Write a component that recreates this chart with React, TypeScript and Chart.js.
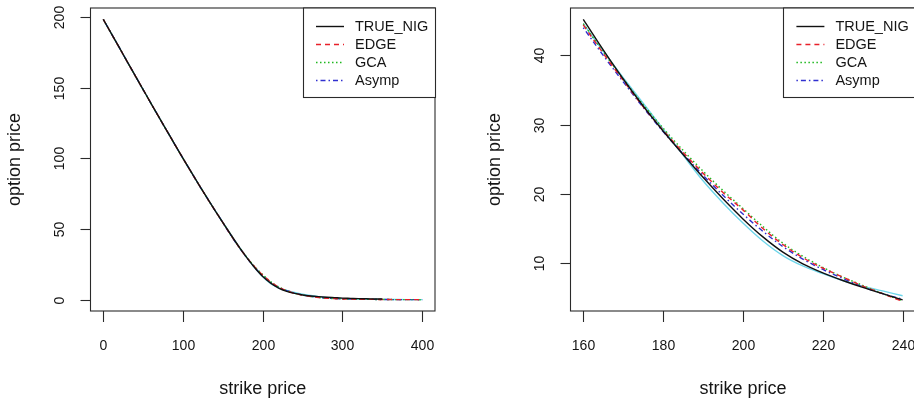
import { useEffect, useRef } from "react";
import { Chart, registerables } from "chart.js";

Chart.register(...registerables);

const FONT = '"Liberation Sans", Arial, Helvetica, sans-serif';
const INK = "#151515";

// ---- full strike range (0 .. 400) ----
const fullStrikes = [
  0, 10, 20, 30, 40, 50, 60, 70, 80, 90, 100, 110, 120, 130, 140, 150, 160, 170, 180, 190,
  200, 210, 220, 230, 240, 250, 260, 270, 280, 290, 300, 310, 320, 330, 340, 350, 360, 370,
  380, 390, 400,
];
// exact NIG price is only available up to K = 350
const fullTrueNig = [
  198.4, 188.4, 178.5, 168.5, 158.6, 148.7, 138.8, 129.0, 119.3, 109.6, 100.0, 90.6, 81.3,
  72.2, 63.3, 54.6, 46.0, 37.6, 29.8, 22.7, 16.5, 11.8, 8.3, 6.0, 4.5, 3.4, 2.7, 2.2, 1.8,
  1.5, 1.2, 1.0, 0.8, 0.7, 0.6, 0.5,
];
const fullEdge = [
  198.4, 188.4, 178.5, 168.5, 158.6, 148.7, 138.8, 129.0, 119.3, 109.6, 100.0, 90.6, 81.3,
  72.2, 63.3, 54.6, 45.8, 37.5, 29.9, 23.2, 17.5, 12.6, 9.0, 6.4, 4.5, 3.2, 2.3, 1.6, 1.1,
  0.8, 0.6, 0.45, 0.35, 0.3, 0.25, 0.2, 0.15, 0.12, 0.1, 0.08, 0.06,
];
const fullGca = [
  198.4, 188.4, 178.5, 168.5, 158.6, 148.7, 138.8, 129.0, 119.3, 109.6, 100.0, 90.6, 81.3,
  72.2, 63.3, 54.6, 45.9, 37.7, 30.1, 23.4, 17.7, 12.8, 9.1, 6.5, 4.6, 3.3, 2.3, 1.6, 1.1,
  0.8, 0.6, 0.45, 0.35, 0.3, 0.25, 0.2, 0.15, 0.12, 0.1, 0.08, 0.06,
];
const fullAsymp = [
  198.4, 188.4, 178.5, 168.5, 158.6, 148.7, 138.8, 129.0, 119.3, 109.6, 100.0, 90.6, 81.3,
  72.2, 63.3, 54.5, 45.6, 37.4, 29.7, 22.9, 17.1, 12.3, 8.9, 6.5, 4.7, 3.4, 2.4, 1.7, 1.2,
  0.9, 0.6, 0.45, 0.35, 0.3, 0.25, 0.2, 0.15, 0.12, 0.1, 0.08, 0.06,
];
const fullCyan = [
  198.4, 188.4, 178.5, 168.5, 158.6, 148.7, 138.8, 129.0, 119.3, 109.6, 100.0, 90.6, 81.3,
  72.2, 63.4, 54.8, 46.0, 37.7, 29.9, 22.6, 16.2, 11.3, 8.3, 6.6, 5.2, 4.0, 3.0, 2.2, 1.6,
  1.1, 0.8, 0.6, 0.45, 0.35, 0.3, 0.25, 0.2, 0.15, 0.12, 0.1, 0.08,
];

// ---- near-the-money range (160 .. 240) ----
const zoomStrikes = [160, 165, 170, 175, 180, 185, 190, 195, 200, 205, 210, 215, 220, 225, 230, 235, 240];
const zoomTrueNig = [45.2, 40.8, 36.6, 32.7, 29.1, 25.7, 22.4, 19.3, 16.4, 13.8, 11.6, 9.9, 8.6, 7.5, 6.5, 5.6, 4.7];
const zoomEdge = [44.4, 40.3, 36.4, 32.6, 29.2, 26.0, 23.0, 20.2, 17.7, 15.0, 12.7, 10.8, 9.3, 8.0, 6.7, 5.6, 4.5];
const zoomGca = [44.6, 40.5, 36.6, 32.9, 29.5, 26.3, 23.3, 20.5, 17.9, 15.3, 12.9, 11.0, 9.4, 8.0, 6.8, 5.6, 4.6];
const zoomAsymp = [44.0, 40.0, 36.2, 32.5, 29.0, 25.8, 22.7, 19.8, 17.1, 14.6, 12.4, 10.6, 9.1, 7.8, 6.6, 5.6, 4.8];
const zoomCyan = [44.6, 40.6, 36.8, 33.1, 29.4, 25.6, 21.9, 18.7, 15.8, 13.2, 11.1, 9.6, 8.5, 7.5, 6.7, 6.0, 5.3];

// ---- tick labels ----
const fullXTicks = [0, 100, 200, 300, 400];
const fullYTicks = [0, 50, 100, 150, 200];
const zoomXTicks = [160, 180, 200, 220, 240];
const zoomYTicks = [10, 20, 30, 40];

const legendLabels = ["TRUE_NIG", "EDGE", "GCA", "Asymp"];
const xTitle = "strike price";
const yTitle = "option price";

// line styles, R palette order
const seriesStyles = [
  { color: "#111111", dash: [] as number[] },
  { color: "#e8202a", dash: [5, 4] },
  { color: "#1fb81f", dash: [1.5, 2.5] },
  { color: "#3030d0", dash: [1.5, 3, 5, 3] },
];
const cyanStyle = { color: "#6fd6ea", dash: [] as number[] };

type FrameOpts = {
  xTicks: number[];
  yTicks: number[];
};

const framePlugin = {
  id: "rFrame",
  afterDatasetsDraw(chart: any, _args: any, opts: FrameOpts) {
    const { ctx, chartArea: a, scales } = chart;
    ctx.save();
    ctx.strokeStyle = "#2a2a2a";
    ctx.lineWidth = 1.1;
    ctx.setLineDash([]);
    ctx.strokeRect(a.left, a.top, a.right - a.left, a.bottom - a.top);

    ctx.fillStyle = INK;
    ctx.font = `14px ${FONT}`;
    ctx.textAlign = "center";
    ctx.textBaseline = "middle";

    // x axis
    for (const v of opts.xTicks) {
      const px = Math.round(scales.x.getPixelForValue(v)) + 0.5;
      ctx.beginPath();
      ctx.moveTo(px, a.bottom);
      ctx.lineTo(px, a.bottom + 11);
      ctx.stroke();
      ctx.fillText(String(v), px, a.bottom + 35);
    }
    // y axis
    for (const v of opts.yTicks) {
      const py = Math.round(scales.y.getPixelForValue(v)) + 0.5;
      ctx.beginPath();
      ctx.moveTo(a.left, py);
      ctx.lineTo(a.left - 10, py);
      ctx.stroke();
      ctx.save();
      ctx.translate(a.left - 30.5, py);
      ctx.rotate(-Math.PI / 2);
      ctx.fillText(String(v), 0, 0);
      ctx.restore();
    }

    // axis titles
    ctx.font = `18px ${FONT}`;
    ctx.fillText(xTitle, (a.left + a.right) / 2, a.bottom + 78);
    ctx.save();
    ctx.translate(a.left - 75, (a.top + a.bottom) / 2);
    ctx.rotate(-Math.PI / 2);
    ctx.fillText(yTitle, 0, 0);
    ctx.restore();

    // legend, top right
    const lw = 132;
    const lh = 89.5;
    const lx = a.right - lw;
    const ly = a.top;
    ctx.fillStyle = "#ffffff";
    ctx.fillRect(lx, ly, lw, lh);
    ctx.strokeStyle = "#2a2a2a";
    ctx.strokeRect(Math.round(lx) + 0.5, ly, lw, lh);
    ctx.font = `14.5px ${FONT}`;
    ctx.textAlign = "left";
    legendLabels.forEach((label, i) => {
      const ry = ly + 18.5 + i * 18;
      const st = seriesStyles[i];
      ctx.strokeStyle = st.color;
      ctx.lineWidth = 1.4;
      ctx.setLineDash(st.dash);
      ctx.beginPath();
      ctx.moveTo(lx + 13, ry);
      ctx.lineTo(lx + 41, ry);
      ctx.stroke();
      ctx.setLineDash([]);
      ctx.fillStyle = INK;
      ctx.fillText(label, lx + 52, ry + 0.5);
    });
    ctx.restore();
  },
};

function toPoints(xs: number[], ys: number[]) {
  return ys.map((y, i) => ({ x: xs[i], y }));
}

function makeDataset(xs: number[], ys: number[], st: { color: string; dash: number[] }) {
  return {
    data: toPoints(xs, ys),
    borderColor: st.color,
    borderWidth: 1.4,
    borderDash: st.dash,
    pointRadius: 0,
    fill: false,
    cubicInterpolationMode: "monotone" as const,
  };
}

function makeConfig(
  xs: number[],
  series: number[][],
  cyan: number[],
  xRange: [number, number],
  yRange: [number, number],
  padding: { left: number; right: number; top: number; bottom: number },
  ticks: FrameOpts
): any {
  const datasets = [
    ...series.map((ys, i) => makeDataset(xs, ys, seriesStyles[i])),
    makeDataset(xs, cyan, cyanStyle),
  ];
  return {
    type: "line",
    data: { datasets },
    options: {
      responsive: false,
      animation: false,
      events: [],
      layout: { padding },
      scales: {
        x: { type: "linear", min: xRange[0], max: xRange[1], display: false },
        y: { type: "linear", min: yRange[0], max: yRange[1], display: false },
      },
      plugins: {
        legend: { display: false },
        tooltip: { enabled: false },
        rFrame: ticks,
      },
    },
    plugins: [framePlugin],
  };
}

export default function App() {
  const leftRef = useRef<HTMLCanvasElement>(null);
  const rightRef = useRef<HTMLCanvasElement>(null);

  useEffect(() => {
    const left = new Chart(
      leftRef.current!,
      makeConfig(
        fullStrikes,
        [fullTrueNig, fullEdge, fullGca, fullAsymp],
        fullCyan,
        [-16, 416],
        [-7.94, 206.4],
        { left: 90.5, right: 22, top: 8, bottom: 90 },
        { xTicks: fullXTicks, yTicks: fullYTicks }
      )
    );
    const right = new Chart(
      rightRef.current!,
      makeConfig(
        zoomStrikes,
        [zoomTrueNig, zoomEdge, zoomGca, zoomAsymp],
        zoomCyan,
        [156.8, 243.2],
        [3.1, 46.85],
        { left: 113.5, right: 11.6, top: 8, bottom: 90 },
        { xTicks: zoomXTicks, yTicks: zoomYTicks }
      )
    );
    return () => {
      left.destroy();
      right.destroy();
    };
  }, []);

  return (
    <div
      style={{
        position: "fixed",
        left: 0,
        top: 0,
        width: 914,
        height: 401,
        overflow: "hidden",
        background: "#ffffff",
      }}
    >
      <canvas ref={leftRef} width={457} height={401} style={{ position: "absolute", left: 0, top: 0 }} />
      <canvas ref={rightRef} width={470} height={401} style={{ position: "absolute", left: 457, top: 0 }} />
    </div>
  );
}
